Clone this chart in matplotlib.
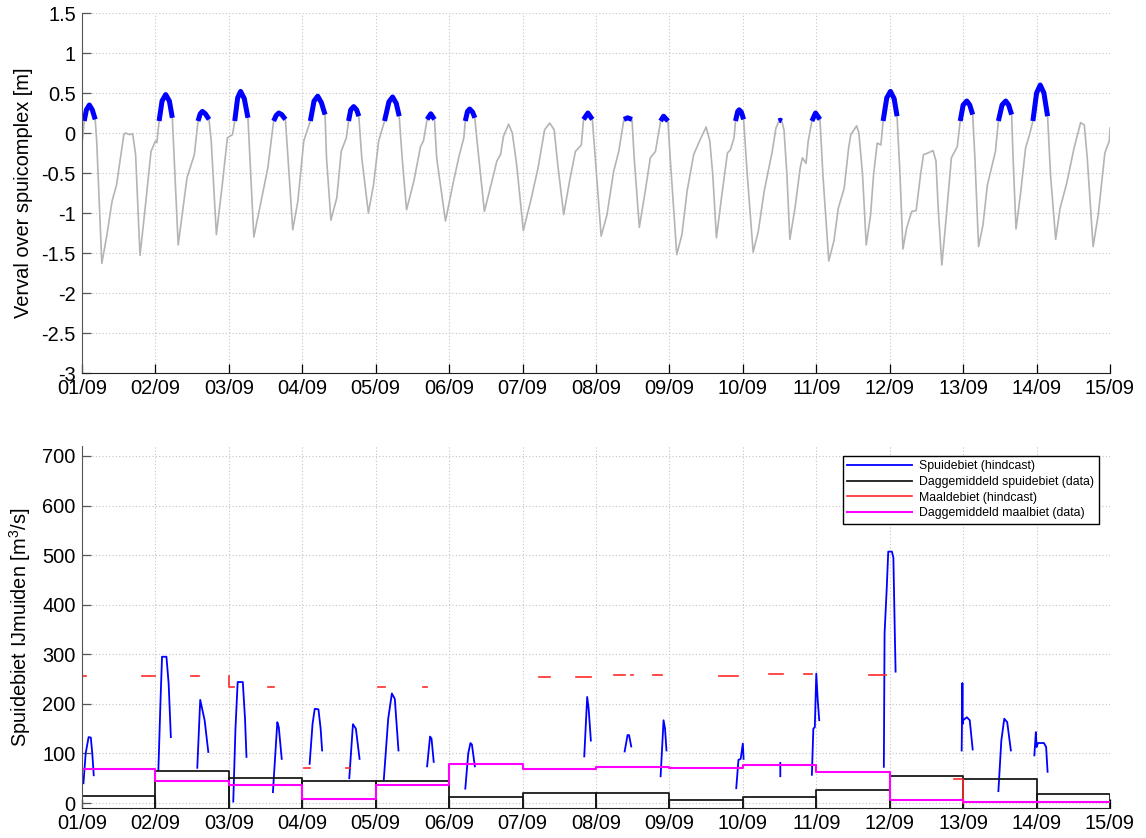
import numpy as np
import matplotlib
matplotlib.use("Agg")
import matplotlib.pyplot as plt

plt.rcParams['font.family'] = ['Liberation Sans', 'DejaVu Sans']
plt.rcParams['mathtext.fontset'] = 'custom'
plt.rcParams['mathtext.rm'] = 'Liberation Sans'
plt.rcParams['mathtext.it'] = 'Liberation Sans'
plt.rcParams['mathtext.default'] = 'regular'

# ---------------- data ----------------
day_labels = ["01/09", "02/09", "03/09", "04/09", "05/09", "06/09", "07/09", "08/09",
              "09/09", "10/09", "11/09", "12/09", "13/09", "14/09", "15/09"]

# verval over spuicomplex [m]; time in days since 01/09 00:00
verval_t = [0.00, 0.01, 0.03, 0.06, 0.10, 0.14, 0.18, 0.20, 0.27, 0.34, 0.41, 0.47, 0.57, 0.59, 0.65,
            0.69, 0.73, 0.79, 0.86, 0.94, 1.00, 1.02, 1.05, 1.09, 1.14, 1.19, 1.23, 1.31, 1.43, 1.53,
            1.58, 1.61, 1.64, 1.68, 1.73, 1.76, 1.83, 1.91, 1.98, 2.05, 2.08, 2.12, 2.16, 2.21, 2.26,
            2.34, 2.44, 2.53, 2.61, 2.645, 2.68, 2.72, 2.77, 2.79, 2.87, 2.94, 3.02, 3.11, 3.16, 3.21,
            3.26, 3.31, 3.33, 3.39, 3.47, 3.53, 3.60, 3.63, 3.66, 3.70, 3.74, 3.77, 3.81, 3.90, 3.97,
            4.04, 4.12, 4.18, 4.23, 4.28, 4.32, 4.36, 4.42, 4.52, 4.61, 4.65, 4.70, 4.75, 4.80, 4.83,
            4.95, 5.06, 5.14, 5.20, 5.22, 5.25, 5.28, 5.32, 5.35, 5.38, 5.48, 5.57, 5.65, 5.70, 5.74,
            5.81, 5.86, 5.92, 6.01, 6.11, 6.21, 6.30, 6.37, 6.43, 6.48, 6.56, 6.64, 6.72, 6.80, 6.83,
            6.89, 6.95, 6.99, 7.07, 7.15, 7.24, 7.31, 7.38, 7.43, 7.49, 7.52, 7.59, 7.67, 7.74, 7.81,
            7.88, 7.92, 7.98, 8.01, 8.10, 8.17, 8.24, 8.33, 8.42, 8.50, 8.55, 8.59, 8.64, 8.72, 8.79,
            8.83, 8.88, 8.90, 8.93, 8.95, 8.98, 9.01, 9.06, 9.14, 9.21, 9.29, 9.40, 9.45, 9.49, 9.51,
            9.53, 9.56, 9.60, 9.64, 9.71, 9.78, 9.81, 9.86, 9.89, 9.94, 9.99, 10.05, 10.09, 10.17, 10.24,
            10.30, 10.38, 10.44, 10.47, 10.55, 10.58, 10.63, 10.68, 10.74, 10.78, 10.83, 10.88, 10.91, 10.96, 11.01,
            11.06, 11.10, 11.14, 11.18, 11.23, 11.30, 11.36, 11.42, 11.46, 11.52, 11.59, 11.63, 11.66, 11.71, 11.76,
            11.84, 11.92, 11.96, 12.00, 12.05, 12.09, 12.13, 12.16, 12.21, 12.27, 12.33, 12.38, 12.44, 12.48, 12.53,
            12.58, 12.62, 12.66, 12.68, 12.72, 12.78, 12.85, 12.91, 12.95, 13.00, 13.05, 13.10, 13.15, 13.19, 13.26,
            13.32, 13.41, 13.51, 13.60, 13.65, 13.69, 13.77, 13.84, 13.93, 13.99, 14.00]
verval_v = [-0.12, -0.05, 0.15, 0.29, 0.35, 0.29, 0.17, -0.10, -1.63, -1.27, -0.85, -0.65, -0.02, 0.00, -0.02,
            -0.01, -0.27, -1.53, -0.94, -0.23, -0.10, -0.12, 0.15, 0.40, 0.48, 0.40, 0.19, -1.40, -0.56, -0.27,
            0.15, 0.24, 0.27, 0.24, 0.17, -0.10, -1.27, -0.65, -0.06, -0.02, 0.15, 0.44, 0.52, 0.43, 0.19,
            -1.30, -0.85, -0.44, 0.15, 0.22, 0.25, 0.23, 0.17, -0.10, -1.21, -0.85, -0.10, 0.15, 0.40, 0.46,
            0.38, 0.23, -0.31, -1.09, -0.81, -0.23, -0.06, 0.15, 0.29, 0.33, 0.29, 0.21, -0.31, -1.00, -0.65,
            -0.10, 0.15, 0.39, 0.45, 0.37, 0.21, -0.31, -0.96, -0.60, -0.17, -0.10, 0.17, 0.24, 0.17, -0.31,
            -1.10, -0.60, -0.27, -0.06, 0.15, 0.27, 0.30, 0.26, 0.19, -0.10, -0.98, -0.65, -0.35, -0.27, -0.04,
            0.11, 0.00, -0.40, -1.22, -0.85, -0.44, 0.04, 0.125, 0.04, -0.40, -1.02, -0.60, -0.23, -0.15, 0.17,
            0.25, 0.17, -0.31, -1.29, -1.02, -0.48, -0.23, 0.17, 0.19, 0.17, -0.31, -1.18, -0.73, -0.31, -0.23,
            0.15, 0.21, 0.15, -0.31, -1.52, -1.27, -0.73, -0.27, -0.08, 0.075, -0.10, -0.52, -1.31, -0.73, -0.25,
            -0.21, -0.06, 0.15, 0.27, 0.29, 0.26, 0.17, -0.52, -1.49, -1.23, -0.73, -0.23, 0.06, 0.15, 0.16,
            0.15, 0.04, -0.52, -1.33, -0.94, -0.44, -0.31, -0.38, -0.10, 0.15, 0.25, 0.17, -0.52, -1.60, -1.35,
            -0.94, -0.69, -0.19, -0.02, 0.09, 0.00, -0.52, -1.40, -1.02, -0.52, -0.125, -0.15, 0.15, 0.44, 0.52,
            0.43, 0.21, -0.52, -1.45, -1.19, -0.98, -0.97, -0.52, -0.27, -0.25, -0.22, -0.35, -0.94, -1.65, -1.15,
            -0.31, -0.17, 0.15, 0.35, 0.40, 0.35, 0.23, -0.31, -1.42, -1.15, -0.65, -0.46, -0.23, 0.15, 0.35,
            0.40, 0.35, 0.23, -0.31, -1.20, -0.77, -0.19, 0.00, 0.15, 0.50, 0.60, 0.50, 0.21, -0.52, -1.33,
            -0.94, -0.63, -0.19, 0.13, 0.10, -0.31, -1.42, -1.02, -0.25, -0.10, 0.06]
spui_drempel = 0.145  # verval above which the sluices discharge (blue)

# Spuidebiet (hindcast) [m3/s], arcs separated by NaN
nan = np.nan
spui_t = [0.02, 0.05, 0.09, 0.12, 0.14, 0.16, nan,
          1.04, 1.07, 1.09, 1.15, 1.18, 1.21, nan,
          1.57, 1.61, 1.67, 1.72, nan,
          2.06, 2.09, 2.12, 2.19, 2.22, 2.24, nan,
          2.60, 2.66, 2.68, 2.72, nan,
          3.10, 3.14, 3.17, 3.22, 3.25, 3.27, nan,
          3.64, 3.69, 3.73, 3.78, nan,
          4.11, 4.17, 4.22, 4.26, 4.31, nan,
          4.70, 4.74, 4.76, 4.79, nan,
          5.22, 5.26, 5.29, 5.31, 5.35, nan,
          6.84, 6.88, 6.90, 6.93, nan,
          7.39, 7.43, 7.45, 7.48, nan,
          7.88, 7.92, 7.94, 7.96, nan,
          8.91, 8.94, 8.97, 9.00, 9.01, nan,
          9.51, 9.51, nan,
          9.94, 9.96, 9.98, 10.00, 10.02, 10.04, nan,
          10.92, 10.93, 10.96, 10.98, 11.03, 11.05, 11.07, 11.08, nan,
          11.98, 11.99, 11.995, 12.00, 12.05, 12.09, 12.13, nan,
          12.48, 12.52, 12.56, 12.60, 12.65, nan,
          12.97, 12.99, 13.00, 13.02, 13.10, 13.13, 13.15]
spui_q = [40, 100, 133, 132, 100, 56, nan,
          66, 210, 295, 295, 241, 133, nan,
          71, 208, 167, 103, nan,
          3, 150, 244, 244, 170, 93, nan,
          22, 163, 153, 89, nan,
          79, 160, 190, 189, 150, 106, nan,
          50, 159, 150, 89, nan,
          47, 170, 221, 210, 106, nan,
          74, 134, 130, 83, nan,
          29, 100, 121, 118, 74, nan,
          94, 214, 190, 126, nan,
          104, 137, 137, 114, nan,
          54, 167, 150, 106, nan,
          30, 87, 89, 120, 89, nan,
          81, 54, nan,
          57, 150, 153, 261, 207, 167, nan,
          73, 342, 435, 507, 507, 495, 338, 265, nan,
          106, 242, 160, 167, 173, 167, 108, nan,
          24, 126, 170, 163, 106, nan,
          96, 143, 113, 121, 121, 113, 63]

# Maaldebiet (hindcast) [m3/s], segments separated by NaN
maal_t = [0.00, 0.05, nan, 0.82, 1.00, nan, 1.49, 1.59, nan, 2.00, 2.00, 2.07, nan,
          2.53, 2.62, nan, 3.03, 3.10, nan, 3.59, 3.65, nan, 4.03, 4.13, nan, 4.64, 4.70, nan,
          6.22, 6.38, nan, 6.73, 6.93, nan, 7.25, 7.40, nan, 7.47, 7.50, nan, 7.77, 7.90, nan,
          8.68, 8.94, nan, 9.36, 9.54, nan, 9.83, 9.94, nan, 10.72, 10.95, nan,
          11.87, 12.00, 12.00]
maal_q = [256, 256, nan, 256, 256, nan, 256, 256, nan, 256, 234, 234, nan,
          234, 234, nan, 71, 71, nan, 71, 71, nan, 234, 234, nan, 234, 234, nan,
          255, 255, nan, 255, 255, nan, 258, 258, nan, 258, 258, nan, 258, 258, nan,
          257, 257, nan, 260, 260, nan, 260, 260, nan, 259, 259, nan,
          48, 48, 0]

# Daily means (data) per day 01/09 .. 14/09
spui_dag = [15, 64, 50, 44, 44, 13, 20, 21, 7, 13, 26, 55, 48, 18]
maal_dag = [68, 44, 37, 8, 37, 78, 68, 72, 71, 76, 62, 6, 2, 2]

# ---------------- figure ----------------
W, H = 1146, 838
fig = plt.figure(figsize=(W / 100, H / 100), dpi=100)
ax1 = fig.add_axes([82 / W, 1 - 373 / H, 1028 / W, 360 / H])
ax2 = fig.add_axes([82 / W, 1 - 808 / H, 1028 / W, 362 / H])

FS = 14.4
grid_kw = dict(color='#c4c4c4', linestyle=(0, (1, 2)), linewidth=0.8)

def style(ax):
    ax.set_xlim(0, 14)
    ax.set_xticks(range(15))
    ax.set_xticklabels(day_labels, fontsize=FS)
    ax.spines['top'].set_visible(False)
    ax.spines['right'].set_visible(False)
    ax.spines['left'].set_color('#555555')
    ax.spines['bottom'].set_color('#222222')
    ax.tick_params(direction='in', length=6.5, width=0.9, pad=4.5, labelsize=FS,
                   colors='black')
    ax.tick_params(axis='y', color='#555555')
    ax.grid(True, **grid_kw)
    ax.set_axisbelow(True)

# top panel
vt = np.array(verval_t)
vv = np.array(verval_v)
ax1.plot(vt, vv, color='#b4b4b4', lw=1.2)
ax1.plot(vt, np.where(vv >= spui_drempel, vv, np.nan), color='#0000ff', lw=3.6,
         solid_capstyle='butt')
ax1.set_ylim(-3, 1.5)
yt1 = [-3, -2.5, -2, -1.5, -1, -0.5, 0, 0.5, 1, 1.5]
ax1.set_yticks(yt1)
ax1.set_yticklabels(["-3", "-2.5", "-2", "-1.5", "-1", "-0.5", "0", "0.5", "1", "1.5"])
style(ax1)
ax1.set_ylabel("Verval over spuicomplex [m]", fontsize=FS)
ax1.yaxis.set_label_coords(-0.048, 0.5)

# bottom panel
ax2.plot(spui_t, spui_q, color='#0000ff', lw=1.3, label='Spuidebiet (hindcast)')
bx, by = [], []
for i, v in enumerate(spui_dag):
    bx += [i, i, i + 1, i + 1, np.nan]
    by += [-50, v, v, -50, np.nan]
ax2.plot(bx, by, color='#1a1a1a', lw=1.3, label='Daggemiddeld spuidebiet (data)')
ax2.plot(maal_t, maal_q, color='#ff2a2a', lw=1.2, label='Maaldebiet (hindcast)')
ax2.step(range(15), maal_dag + [maal_dag[-1]], where='post', color='#ff00ff', lw=1.5,
         label='Daggemiddeld maalbiet (data)')
ax2.set_ylim(-10, 720)
ax2.set_yticks(range(0, 701, 100))
style(ax2)
ax2.set_ylabel("Spuidebiet IJmuiden [m$^3$/s]", fontsize=FS)
ax2.yaxis.set_label_coords(-0.048, 0.5)

leg = ax2.legend(loc='upper right', bbox_to_anchor=(0.989, 0.972), fontsize=8.8,
                 frameon=True, fancybox=False, framealpha=1, edgecolor='black',
                 handlelength=5.3, handletextpad=0.6, labelspacing=0.3,
                 borderpad=0.35, borderaxespad=0)
leg.get_frame().set_linewidth(1.0)

fig.savefig("out.png", dpi=100)
